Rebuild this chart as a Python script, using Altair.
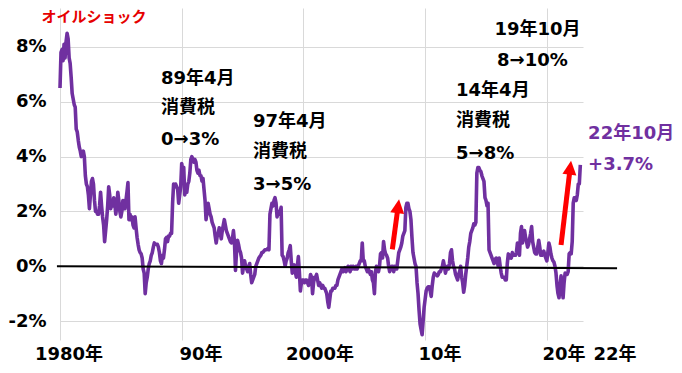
import altair as alt
import pandas as pd

# Japan CPI, year-on-year change (%), monthly, Jan 1980 - Oct 2022
cpi_1980s = [
    6.5, 7.8, 7.9, 7.5, 8.1, 7.6, 8.2, 8.5, 8.3, 7.6, 7.4, 6.9,        # 1980
    6.3, 6.1, 5.9, 5.8, 5.0, 4.9, 4.6, 4.35, 4.2, 4.0, 4.1, 4.2,       # 1981
    4.0, 3.3, 3.0, 2.9, 2.6, 2.1, 2.6, 3.1, 3.2, 3.0, 2.4, 2.0,        # 1982
    2.0, 1.9, 1.9, 2.2, 2.7, 2.2, 1.8, 1.5, 0.9, 1.3, 1.7, 2.2,        # 1983
    2.9, 2.6, 2.1, 2.3, 2.2, 2.5, 2.3, 1.9, 2.2, 2.7, 2.4, 2.0,        # 1984
    1.8, 2.0, 2.4, 2.3, 2.1, 2.4, 2.7, 3.05, 1.7, 1.9, 1.7, 1.8,       # 1985
    1.5, 1.4, 1.8, 1.4, 1.05, 0.8, 0.6, 0.5, 0.45, 0.3, -0.1, -0.25,   # 1986
    -1.0, -0.6, -0.4, -0.1, 0.1, 0.2, 0.4, 0.5, 0.7, 0.85, 0.8, 0.8,   # 1987
    0.8, 0.7, 0.5, 0.2, 0.1, 0.4, 0.3, 0.6, 1.0, 1.05, 0.9, 1.1,       # 1988
    1.1, 1.2, 1.2, 2.3, 3.0, 2.9, 3.0, 2.9, 2.8, 2.3, 2.6, 2.9,        # 1989
]
cpi_1990s = [
    3.75, 3.5, 3.6, 2.6, 2.8, 2.7, 3.0, 3.1, 3.4, 3.9, 4.0, 3.9,       # 1990
    3.8, 3.9, 3.8, 3.5, 3.4, 3.5, 3.3, 3.3, 3.1, 3.2, 2.8, 2.4,        # 1991
    1.7, 2.0, 2.3, 2.1, 1.9, 1.8, 1.6, 1.5, 1.4, 1.1, 0.85, 1.1,       # 1992
    1.2, 1.4, 1.2, 1.0, 1.3, 1.5, 1.7, 1.5, 1.3, 1.2, 1.1, 1.0,        # 1993
    0.9, 0.85, 1.0, 1.3, 0.9, -0.15, 0.5, 0.95, 0.8, 0.6, 0.5, 0.3,    # 1994
    -0.25, 0.0, 0.2, 0.0, -0.1, -0.2, 0.0, 0.1, -0.3, -0.6, -0.5, -0.4,  # 1995
    -0.3, 0.0, 0.1, 0.2, 0.3, 0.35, 0.4, 0.5, 0.5, 0.55, 0.6, 0.6,     # 1996
    0.6, 0.65, 0.6, 1.9, 2.1, 2.3, 2.2, 2.4, 2.5, 2.3, 1.8, 2.0,       # 1997
    1.9, 2.0, 2.15, 0.4, 0.35, 0.2, 0.0, 0.2, 0.3, 0.5, 0.6, 0.75,     # 1998
    0.2, -0.25, -0.1, 0.05, -0.2, -0.4, 0.0, 0.35, -0.2, -0.9, -0.6, -0.5,  # 1999
]
cpi_2000s = [
    -0.5, -0.6, -0.5, -0.5, -0.6, -0.7, -0.6, -0.3, -0.4, -1.0, -0.6, -0.4,  # 2000
    -0.4, -0.3, -0.5, -0.7, -0.6, -0.7, -0.8, -0.7, -0.8, -0.8, -0.9, -1.0,  # 2001
    -1.3, -1.5, -1.2, -0.9, -0.9, -0.8, -0.8, -0.8, -0.7, -0.7, -0.5, -0.4,  # 2002
    -0.3, -0.2, -0.1, -0.2, -0.1, -0.05, -0.2, -0.1, 0.0, -0.1, -0.2, 0.0,   # 2003
    -0.1, 0.0, -0.1, -0.1, 0.0, -0.1, 0.0, 0.1, 0.2, 0.2, 0.85, 0.2,         # 2004
    0.2, 0.0, -0.1, -0.2, -0.1, -0.2, -0.3, -0.2, -0.5, -0.6, -1.0, -0.2,    # 2005
    0.0, -0.1, -0.2, 0.0, 0.45, 0.5, 0.3, 0.9, 0.6, 0.45, 0.4, 0.3,          # 2006
    0.0, -0.2, -0.1, 0.0, 0.0, -0.2, 0.0, -0.1, -0.1, 0.2, 0.5, 0.6,         # 2007
    0.7, 0.85, 1.1, 1.2, 1.3, 2.15, 2.3, 2.3, 2.1, 2.0, 1.7, 1.05,           # 2008
    0.5, 0.3, 0.1, 0.0, -0.6, -1.0, -1.6, -2.1, -2.3, -2.5, -2.0, -1.5,      # 2009
]
cpi_2010s = [
    -1.2, -0.9, -0.8, -0.75, -0.75, -0.9, -1.1, -0.7, -0.4, -0.25, -0.3, -0.3,  # 2010
    -0.35, -0.3, -0.2, -0.2, -0.1, 0.0, 0.2, 0.0, -0.25, -0.1, 0.0, -0.1,       # 2011
    0.1, 0.5, 0.6, 0.2, 0.0, -0.1, -0.3, -0.4, -0.5, -0.3, -0.2, 0.0,           # 2012
    -0.4, -0.6, -0.95, -0.7, -0.3, 0.0, 0.3, 0.7, 0.9, 1.2, 1.3, 1.4,           # 2013
    1.55, 1.5, 1.6, 3.4, 3.6, 3.6, 3.5, 3.45, 3.3, 3.2, 3.1, 2.5,               # 2014
    2.4, 2.2, 2.3, 0.6, 0.5, 0.4, 0.3, 0.2, 0.1, 0.25, 0.3, 0.2,                # 2015
    0.0, 0.3, 0.0, -0.25, -0.4, -0.4, -0.4, -0.5, -0.5, 0.1, 0.45, 0.3,         # 2016
    0.4, 0.3, 0.5, 0.4, 0.4, 0.4, 0.5, 0.85, 0.7, 0.4, 1.2, 1.45,               # 2017
    0.85, 1.1, 1.3, 1.05, 0.9, 0.7, 0.8, 1.0, 1.2, 1.45, 0.9, 0.7,              # 2018
    0.5, 0.45, 0.45, 0.7, 0.95, 0.7, 0.4, 0.4, 0.5, 0.55, 0.4, 0.3,             # 2019
]
cpi_2020s = [
    0.2, 0.5, 0.85, 0.7, 0.45, 0.3, 0.2, 0.15, 0.0, -0.25, -0.7, -1.0,          # 2020
    -1.15, -0.7, -0.35, -0.8, -1.15, -0.6, -0.25, -0.3, -0.3, -0.2, 0.45, 0.5,  # 2021
    0.45, 0.9, 2.3, 2.5, 2.5, 2.4, 2.6, 3.0, 3.0, 3.7,                          # 2022 (to Oct)
]

grid_years = [1980, 1990, 2000, 2010, 2020]
y_ticks = [-2, 0, 2, 4, 6, 8]

x_labels = ["1980年", "90年", "2000年", "10年", "20年", "22年"]
x_label_pos = [1980.74, 1991.59, 2001.36, 2011.22, 2021.41, 2025.60]

note_texts = ["89年4月", "消費税", "0→3%",
              "97年4月", "消費税", "3→5%",
              "14年4月", "消費税", "5→8%",
              "19年10月", "8→10%"]
note_t = [1988.30, 1988.30, 1988.30,
          1995.86, 1995.86, 1995.86,
          2012.54, 2012.54, 2012.54,
          2015.70, 2015.91]
note_v = [6.83, 5.76, 4.59,
          5.26, 4.17, 2.98,
          6.41, 5.28, 4.11,
          8.62, 7.47]

latest_texts = ["22年10月", "+3.7%"]
latest_t = [2023.39, 2023.39]
latest_v = [4.81, 3.68]

oil_text = ["オイルショック"]
oil_t = [1982.79]
oil_v = [9.08]

arrow_tail_t = [2007.305, 2021.167]
arrow_tail_v = [0.617, 0.774]
arrow_shaft_t = [2007.747, 2021.89]
arrow_shaft_v = [2.080, 3.489]
arrow_tip_t = [2007.856, 2021.989]
arrow_tip_v = [2.442, 3.850]
arrow_angle = [7.6, 6.8]

zero_t = [1979.75]
zero_t2 = [2025.77]
zero_v = [0.0]
zero_v2 = [-0.07]

FONT = "DejaVu Sans, Noto Sans CJK JP, sans-serif"
PURPLE = "#7030A0"
RED = "#FF0000"
GRID = "#d9d9d9"

values = cpi_1980s + cpi_1990s + cpi_2000s + cpi_2010s + cpi_2020s
df = pd.DataFrame({"t": [1980 + i / 12 for i in range(len(values))], "v": values})

xs = alt.Scale(domain=[1980, 2022.97], nice=False, zero=False)
ys = alt.Scale(domain=[-2.69, 9.42], nice=False, zero=False)

x_axis = alt.Axis(values=grid_years, grid=True, gridColor=GRID, gridWidth=1,
                  labels=False, ticks=False, domain=False, title=None)
y_axis = alt.Axis(values=y_ticks, labelExpr="datum.value + '%'", grid=True,
                  gridColor=GRID, gridWidth=1, ticks=False, tickSize=0,
                  domain=False, labelPadding=14, labelFont=FONT,
                  labelFontSize=18, labelFontWeight="bold", labelColor="#000000",
                  title=None)


def X(f="t"):
    return alt.X(f"{f}:Q", scale=xs, axis=x_axis)


def Y(f="v"):
    return alt.Y(f"{f}:Q", scale=ys, axis=y_axis)


line = alt.Chart(df).mark_line(color=PURPLE, strokeWidth=3.6, strokeJoin="round").encode(
    x=X(), y=Y())

zero_df = pd.DataFrame({"t": zero_t, "t2": zero_t2, "v": zero_v, "v2": zero_v2})
zero = alt.Chart(zero_df).mark_rule(color="#000000", strokeWidth=2).encode(
    x=X(), x2=alt.X2("t2:Q"), y=Y(), y2=alt.Y2("v2:Q"))

shaft_df = pd.DataFrame({"t": arrow_tail_t, "v": arrow_tail_v,
                         "t2": arrow_shaft_t, "v2": arrow_shaft_v})
shafts = alt.Chart(shaft_df).mark_rule(color=RED, strokeWidth=5, strokeCap="butt").encode(
    x=X(), x2=alt.X2("t2:Q"), y=Y(), y2=alt.Y2("v2:Q"))

head_df = pd.DataFrame({"t": arrow_tip_t, "v": arrow_tip_v, "ang": arrow_angle})
heads = alt.Chart(head_df).mark_point(
    shape="M0,0L0.75,1.5L-0.75,1.5Z", filled=True, size=348, color=RED,
    opacity=1, strokeWidth=0).encode(
    x=X(), y=Y(), angle=alt.Angle("ang:Q", scale=None))

note_df = pd.DataFrame({"text": note_texts, "t": note_t, "v": note_v})
notes = alt.Chart(note_df).mark_text(
    align="left", baseline="middle", font=FONT, fontSize=18, fontWeight="bold",
    color="#000000").encode(x=X(), y=Y(), text="text:N")

latest_df = pd.DataFrame({"text": latest_texts, "t": latest_t, "v": latest_v})
latest = alt.Chart(latest_df).mark_text(
    align="left", baseline="middle", font=FONT, fontSize=18, fontWeight="bold",
    color=PURPLE).encode(x=X(), y=Y(), text="text:N")

oil_df = pd.DataFrame({"text": oil_text, "t": oil_t, "v": oil_v})
oil = alt.Chart(oil_df).mark_text(
    align="center", baseline="middle", font=FONT, fontSize=15, fontWeight="bold",
    color="#E60000").encode(x=X(), y=Y(), text="text:N")

xl_df = pd.DataFrame({"text": x_labels, "t": x_label_pos, "v": [-3.24] * len(x_labels)})
xlab = alt.Chart(xl_df).mark_text(
    align="center", baseline="middle", font=FONT, fontSize=18, fontWeight="bold",
    color="#000000").encode(x=X(), y=Y(), text="text:N")

chart = alt.layer(line, zero, shafts, heads, notes, latest, oil, xlab).properties(
    width=523, height=332,
    padding={"left": 52, "top": 0, "right": 91, "bottom": 25},
    autosize=alt.AutoSizeParams(type="none"),
).configure_view(stroke=None)

chart.save("out.html", embed_options={"renderer": "svg", "actions": False})
